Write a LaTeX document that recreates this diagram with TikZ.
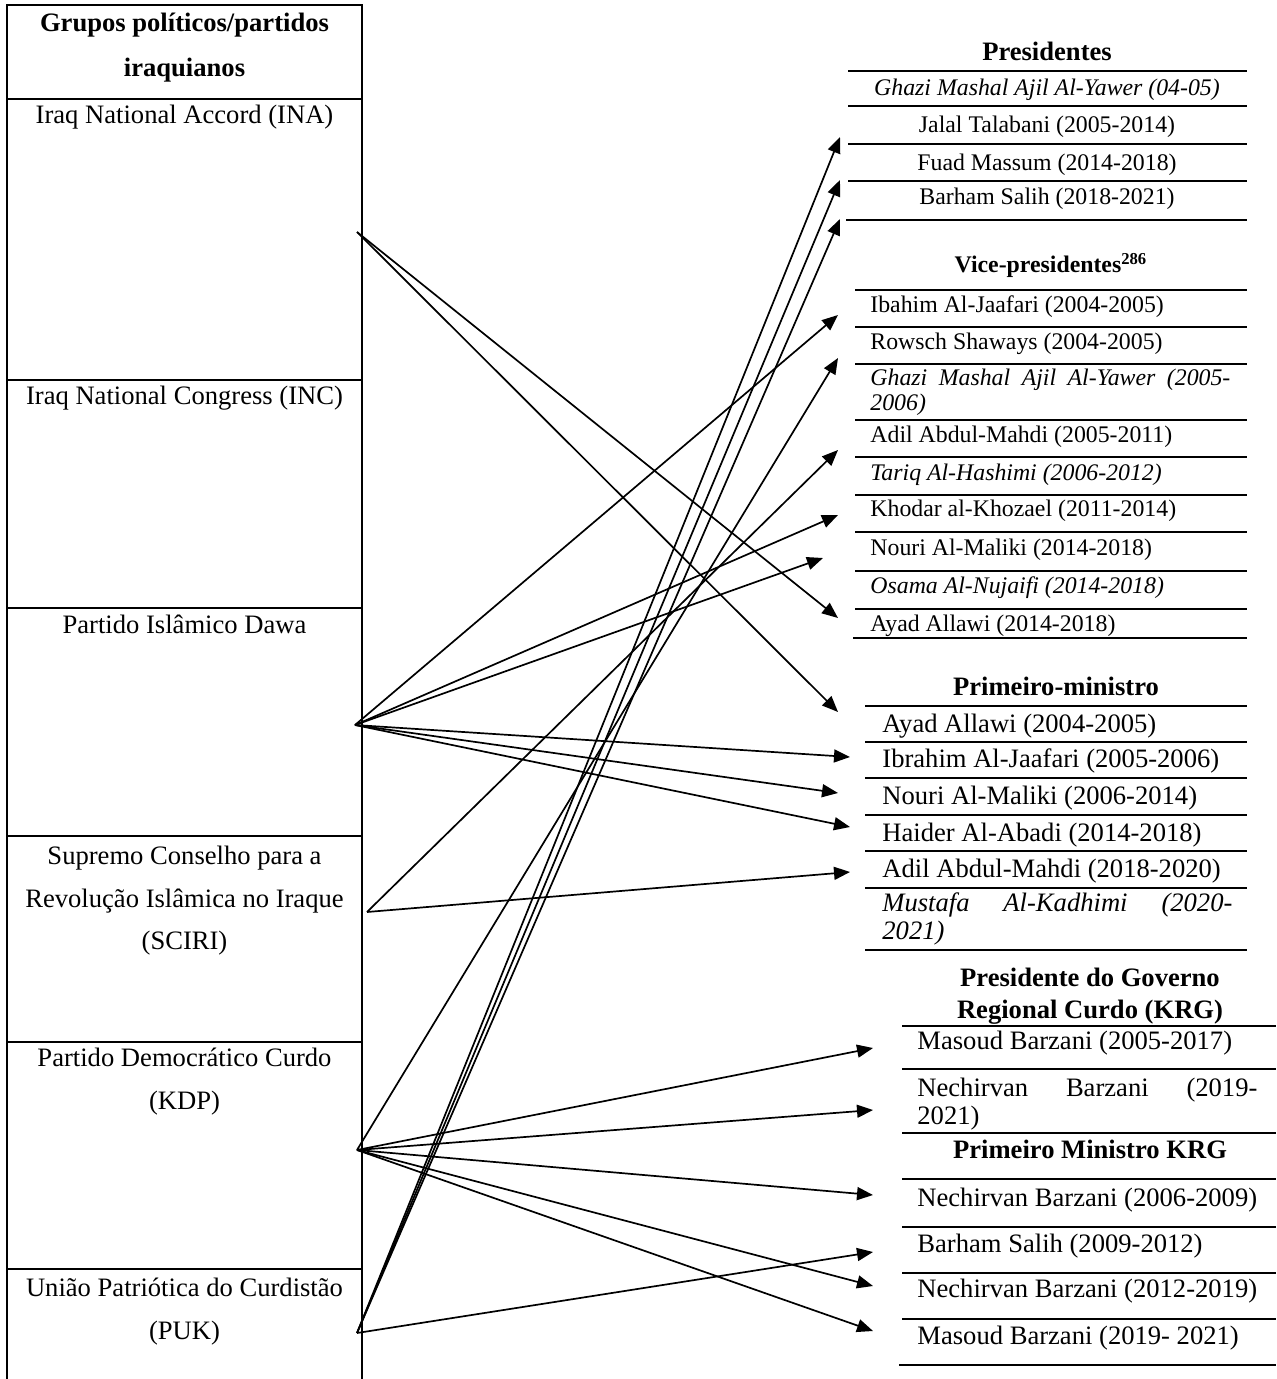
\documentclass[tikz,border=0pt]{standalone}
\usepackage{fontspec}
\setmainfont{Liberation Serif}
\usetikzlibrary{arrows.meta}
\begin{document}
\begin{tikzpicture}[x=0.5pt,y=-0.5pt,
  big/.style={font=\fontsize{13.3pt}{16pt}\selectfont},
  sml/.style={font=\fontsize{11.9pt}{14pt}\selectfont},
  bigb/.style={font=\fontsize{13.3pt}{16pt}\selectfont\bfseries},
  smlb/.style={font=\fontsize{11.9pt}{14pt}\selectfont\bfseries},
  bigi/.style={font=\fontsize{13.3pt}{16pt}\selectfont\itshape},
  smli/.style={font=\fontsize{11.9pt}{14pt}\selectfont\itshape},
  ctr/.style={anchor=base,inner sep=0pt},
  lft/.style={anchor=base west,inner sep=0pt},
  rule/.style={line width=1pt},
  thinrule/.style={line width=0.55pt},
  arr/.style={line width=0.85pt,-{Triangle[length=8pt,width=6.5pt]}}
]
\useasboundingbox (0,0) rectangle (1276,1379);

% ---------- left table ----------
\draw[rule] (7,1379) -- (7,5) -- (362,5) -- (362,1379);
\foreach \yy in {99,380,608,836,1042,1269} \draw[rule] (7,\yy) -- (362,\yy);

\node[ctr,bigb] (h1) at (184.5,32) {Grupos políticos/partidos};
\node[ctr,bigb] (h2) at (184.5,77) {iraquianos};
\node[ctr,big] (ina) at (184.5,124) {Iraq National Accord (INA)};
\node[ctr,big] (inc) at (184.5,405) {Iraq National Congress (INC)};
\node[ctr,big] (dawa) at (184.5,633) {Partido Islâmico Dawa};
\node[ctr,big] (sciri1) at (184.5,864) {Supremo Conselho para a};
\node[ctr,big] (sciri2) at (184.5,907) {Revolução Islâmica no Iraque};
\node[ctr,big] (sciri3) at (184.5,949) {(SCIRI)};
\node[ctr,big] (kdp1) at (184.5,1066) {Partido Democrático Curdo};
\node[ctr,big] (kdp2) at (184.5,1109) {(KDP)};
\node[ctr,big] (puk1) at (184.5,1296) {União Patriótica do Curdistão};
\node[ctr,big] (puk2) at (184.5,1339) {(PUK)};

% ---------- Presidentes ----------
\node[ctr,bigb] (presh) at (1047,61) {Presidentes};
\draw[rule] (848,71) -- (1247,71);
\node[ctr,smli] (pres1) at (1047,96) {Ghazi Mashal Ajil Al-Yawer (04-05)};
\draw[rule] (848,106) -- (1247,106);
\node[ctr,sml] (pres2) at (1047,133) {Jalal Talabani (2005-2014)};
\draw[rule] (848,144) -- (1247,144);
\node[ctr,sml] (pres3) at (1047,171) {Fuad Massum (2014-2018)};
\draw[thinrule] (848,181) -- (1247,181);
\node[ctr,sml] (pres4) at (1047,205) {Barham Salih (2018-2021)};
\draw[thinrule] (846,220) -- (1247,220);

% ---------- Vice-presidentes ----------
\node[ctr,smlb] (vph) at (1051,273) {Vice-presidentes\textsuperscript{286}};
\foreach \yy in {290,327,364,420,457,495,532,571} \draw[rule] (855,\yy) -- (1247,\yy);
\draw[thinrule] (855,609) -- (1247,609);
\draw[thinrule] (853,638) -- (1247,638);
\node[lft,sml] (vp1) at (870,313) {Ibahim Al-Jaafari (2004-2005)};
\node[lft,sml] (vp2) at (870,350) {Rowsch Shaways (2004-2005)};
\node[lft,smli] (vp3) at (870,386) {\makebox[180pt][s]{Ghazi Mashal Ajil Al-Yawer (2005-}};
\node[lft,smli] (vp3b) at (870,411) {2006)};
\node[lft,sml] (vp4) at (870,443) {Adil Abdul-Mahdi (2005-2011)};
\node[lft,smli] (vp5) at (870,480) {Tariq Al-Hashimi (2006-2012)};
\node[lft,sml] (vp6) at (870,516) {Khodar al-Khozael (2011-2014)};
\node[lft,sml] (vp7) at (870,555) {Nouri Al-Maliki (2014-2018)};
\node[lft,smli] (vp8) at (870,593) {Osama Al-Nujaifi (2014-2018)};
\node[lft,sml] (vp9) at (870,631) {Ayad Allawi (2014-2018)};

% ---------- Primeiro-ministro ----------
\node[ctr,bigb] (pmh) at (1056,695) {Primeiro-ministro};
\foreach \yy in {706,742,778,815,851} \draw[rule] (865,\yy) -- (1247,\yy);
\draw[thinrule] (865,888) -- (1247,888);
\draw[thinrule] (865,950) -- (1247,950);
\node[lft,big] (pm1) at (882,732) {Ayad Allawi (2004-2005)};
\node[lft,big] (pm2) at (882,767) {Ibrahim Al-Jaafari (2005-2006)};
\node[lft,big] (pm3) at (882,804) {Nouri Al-Maliki (2006-2014)};
\node[lft,big] (pm4) at (882,841) {Haider Al-Abadi (2014-2018)};
\node[lft,big] (pm5) at (882,877) {Adil Abdul-Mahdi (2018-2020)};
\node[lft,bigi] (pm6) at (882,911) {\makebox[175pt][s]{Mustafa Al-Kadhimi (2020-}};
\node[lft,bigi] (pm6b) at (882,939) {2021)};

% ---------- KRG ----------
\node[ctr,bigb] (krgh1) at (1090,986) {Presidente do Governo};
\node[ctr,bigb] (krgh2) at (1090,1018) {Regional Curdo (KRG)};
\foreach \yy in {1026,1069,1133,1179,1227,1273} \draw[rule] (902,\yy) -- (1276,\yy);
\draw[thinrule] (902,1319) -- (1276,1319);
\draw[thinrule] (899,1365) -- (1276,1365);
\node[lft,big] (krg1) at (917,1049) {Masoud Barzani (2005-2017)};
\node[lft,big] (krg2) at (917,1096) {\makebox[170pt][s]{Nechirvan Barzani (2019-}};
\node[lft,big] (krg2b) at (917,1124) {2021)};
\node[ctr,bigb] (krgpmh) at (1090,1158) {Primeiro Ministro KRG};
\node[lft,big] (krg3) at (917,1206) {Nechirvan Barzani (2006-2009)};
\node[lft,big] (krg4) at (917,1252) {Barham Salih (2009-2012)};
\node[lft,big] (krg5) at (917,1297) {Nechirvan Barzani (2012-2019)};
\node[lft,big] (krg6) at (917,1344) {Masoud Barzani (2019- 2021)};

% ---------- connector ends ----------
\coordinate (sINA) at (357,232);
\coordinate (sDawa) at (355,725);
\coordinate (sSCIRI) at (367,912);
\coordinate (sKDP) at (357,1150);
\coordinate (sPUK) at (357,1333);

\coordinate (tPres2) at (840,137);
\coordinate (tPres3) at (840,180);
\coordinate (tPres4) at (840,219);
\coordinate (tVP1) at (838,315);
\coordinate (tVP2) at (838,358);
\coordinate (tVP4) at (838,450);
\coordinate (tVP6) at (838,515);
\coordinate (tVP7) at (823,558);
\coordinate (tVP9) at (838,618);
\coordinate (tPM1) at (838,712);
\coordinate (tPM2) at (850,757);
\coordinate (tPM3) at (838,793);
\coordinate (tPM4) at (850,827);
\coordinate (tPM5) at (850,872);
\coordinate (tK1) at (873,1048);
\coordinate (tK2) at (873,1110);
\coordinate (tK3) at (873,1195);
\coordinate (tK4) at (873,1252);
\coordinate (tK5) at (873,1286);
\coordinate (tK6) at (873,1331);

% ---------- connectors ----------
\draw[arr] (sINA) -- (tVP9);
\draw[arr] (sINA) -- (tPM1);

\draw[arr] (sDawa) -- (tVP1);
\draw[arr] (sDawa) -- (tVP6);
\draw[arr] (sDawa) -- (tVP7);
\draw[arr] (sDawa) -- (tPM2);
\draw[arr] (sDawa) -- (tPM3);
\draw[arr] (sDawa) -- (tPM4);

\draw[arr] (sSCIRI) -- (tVP4);
\draw[arr] (sSCIRI) -- (tPM5);

\draw[arr] (sKDP) -- (tVP2);
\draw[arr] (sKDP) -- (tK1);
\draw[arr] (sKDP) -- (tK2);
\draw[arr] (sKDP) -- (tK3);
\draw[arr] (sKDP) -- (tK5);
\draw[arr] (sKDP) -- (tK6);

\draw[arr] (sPUK) -- (tPres2);
\draw[arr] (sPUK) -- (tPres3);
\draw[arr] (sPUK) -- (tPres4);
\draw[arr] (sPUK) -- (tK4);
\end{tikzpicture}
\end{document}
